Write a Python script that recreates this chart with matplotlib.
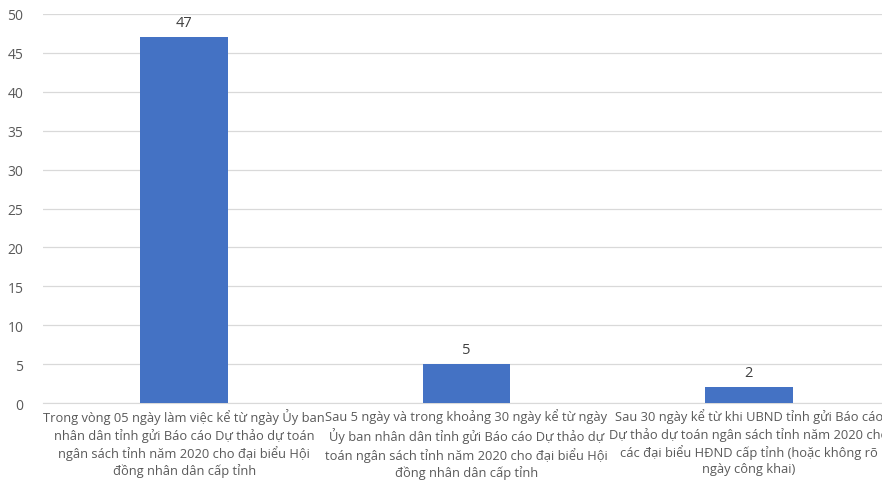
import matplotlib.pyplot as plt

plt.rcParams['font.family'] = ['Open Sans', 'DejaVu Sans']

categories = [
    'Trong vòng 05 ngày làm việc kể từ ngày Ủy ban\nnhân dân tỉnh gửi Báo cáo Dự thảo dự toán\nngân sách tỉnh năm 2020 cho đại biểu Hội\nđồng nhân dân cấp tỉnh',
    'Sau 5 ngày và trong khoảng 30 ngày kể từ ngày\nỦy ban nhân dân tỉnh gửi Báo cáo Dự thảo dự\ntoán ngân sách tỉnh năm 2020 cho đại biểu Hội\nđồng nhân dân cấp tỉnh',
    'Sau 30 ngày kể từ khi UBND tỉnh gửi Báo cáo\nDự thảo dự toán ngân sách tỉnh năm 2020 cho\ncác đại biểu HĐND cấp tỉnh (hoặc không rõ\nngày công khai)',
]
values = [47, 5, 2]

fig = plt.figure(figsize=(8.82, 4.85), dpi=100)
ax = fig.add_axes([43 / 882, 1 - 404 / 485, 847 / 882, 389 / 485])

x = range(len(categories))
bars = ax.bar(x, values, width=0.31, color='#4472c4', zorder=3)
ax.bar_label(bars, padding=5, fontsize=10.5, color='#404040')

ax.set_xlim(-0.5, 2.5)
ax.set_ylim(0, 50)
ax.set_yticks(range(0, 51, 5))
ax.set_xticks(list(x))
ax.set_xticklabels(categories, fontsize=9.3, color='#595959', linespacing=1.3)
ax.tick_params(axis='y', labelsize=10, labelcolor='#595959', length=0, pad=14)
ax.tick_params(axis='x', length=0, pad=4)
ax.grid(axis='y', color='#d9d9d9', linewidth=0.9, zorder=0)
for s in ['top', 'right', 'left']:
    ax.spines[s].set_visible(False)
ax.spines['bottom'].set_color('#d9d9d9')

fig.savefig('out.png', dpi=100)
